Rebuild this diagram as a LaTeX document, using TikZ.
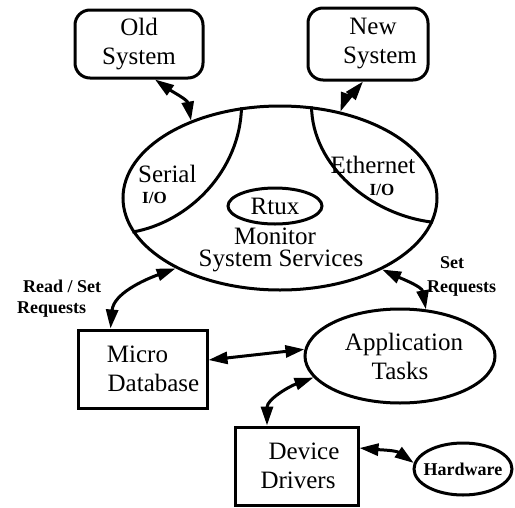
\documentclass[tikz,border=0pt]{standalone}
\usepackage{fontspec}
\setmainfont{Liberation Serif}
\usetikzlibrary{shapes.geometric,arrows.meta}

\newcommand{\mainfs}{\fontsize{25}{29}\selectfont}
\newcommand{\smallfs}{\fontsize{18}{22}\selectfont\bfseries}
\newcommand{\iofs}{\fontsize{17}{20}\selectfont\bfseries}

\tikzset{
  sysbox/.style={draw, line width=3pt, rounded corners=15pt, align=center,
                 font=\mainfs, inner sep=0pt},
  plainbox/.style={draw, line width=3pt, align=center, font=\mainfs, inner sep=0pt},
  oval/.style={draw, ellipse, line width=3pt, inner sep=0pt, align=center, font=\mainfs},
  divider/.style={line width=3pt},
  link/.style={line width=3pt,
               {Triangle[length=19pt,width=12pt]}-{Triangle[length=19pt,width=12pt]}},
  txt/.style={inner sep=0pt, font=\mainfs},
  lbl/.style={inner sep=0pt, font=\smallfs},
}

\begin{document}
\begin{tikzpicture}[x=1pt,y=-1pt]
\useasboundingbox (0,0) rectangle (515,507);

% external systems
\node[sysbox, minimum width=128pt, minimum height=68pt] (old) at (139,44) {Old\\System};
\node[sysbox, minimum width=120pt, minimum height=72pt] (new) at (368,44)
  {\hspace*{10pt}New\\\hspace*{24pt}System};

% monitor with its I/O sections
\node[oval, minimum width=314pt, minimum height=184pt] (mon) at (280,198) {};
\draw[divider] (mon.113.7) .. controls (240,170) and (190,222) .. (mon.193.6);
\draw[divider] (mon.71.4) .. controls (312,165) and (370,215) .. (mon.-9.6);
\node[txt, anchor=base west] (serial) at (138,182) {Serial};
\node[inner sep=0pt, font=\iofs, anchor=base west] (serialio) at (142,203) {I/O};
\node[txt, anchor=base] (ether) at (373,173) {Ethernet};
\node[inner sep=0pt, font=\iofs, anchor=base] (etherio) at (382,195) {I/O};
\node[oval, minimum width=94pt, minimum height=36pt] (rtux) at (275,206) {Rtux};
\node[txt, anchor=base] (monitor) at (275,244) {Monitor};
\node[txt, anchor=base] (services) at (281,266) {System Services};

% lower components
\node[plainbox, minimum width=129pt, minimum height=78pt] (micro) at (142.5,369)
  {Micro\hspace*{10pt}\\\hspace*{22pt}Database};
\node[oval, minimum width=190pt, minimum height=94pt] (app) at (400,356)
  {\hspace*{8pt}Application\\Tasks};
\node[plainbox, minimum width=123pt, minimum height=78pt] (dev) at (296.5,466)
  {\hspace*{15pt}Device\\\hspace*{3pt}Drivers};
\node[oval, minimum width=98pt, minimum height=52pt, font=\smallfs] (hw) at (463,469)
  {\makebox[0pt]{Hardware}};

% request labels
\node[lbl, anchor=base west] (rs1) at (23,292) {Read / Set};
\node[lbl, anchor=base west] (rs2) at (17,313) {Requests};
\node[lbl, anchor=base west] (sr1) at (440,268) {Set};
\node[lbl, anchor=base west] (sr2) at (427,292) {Requests};

% connectors
\draw[link] ([xshift=16pt]old.south) to[out=-35, in=100] (mon.139);
\draw[link] ([xshift=-5pt]new.south) to[out=-130, in=70] (mon.55);
\draw[link] (mon.214) to[out=200, in=85] ([xshift=-32pt]micro.north);
\draw[link] (mon.-35) to[out=-25, in=100] (app.61);
\draw[link] ([yshift=9pt]micro.east) -- (app.176);
\draw[link] (app.194) to[out=200, in=90] ([xshift=-29.5pt]dev.north);
\draw[link] ([yshift=18pt]dev.east) to[out=-5, in=145] (hw.173);
\end{tikzpicture}
\end{document}
